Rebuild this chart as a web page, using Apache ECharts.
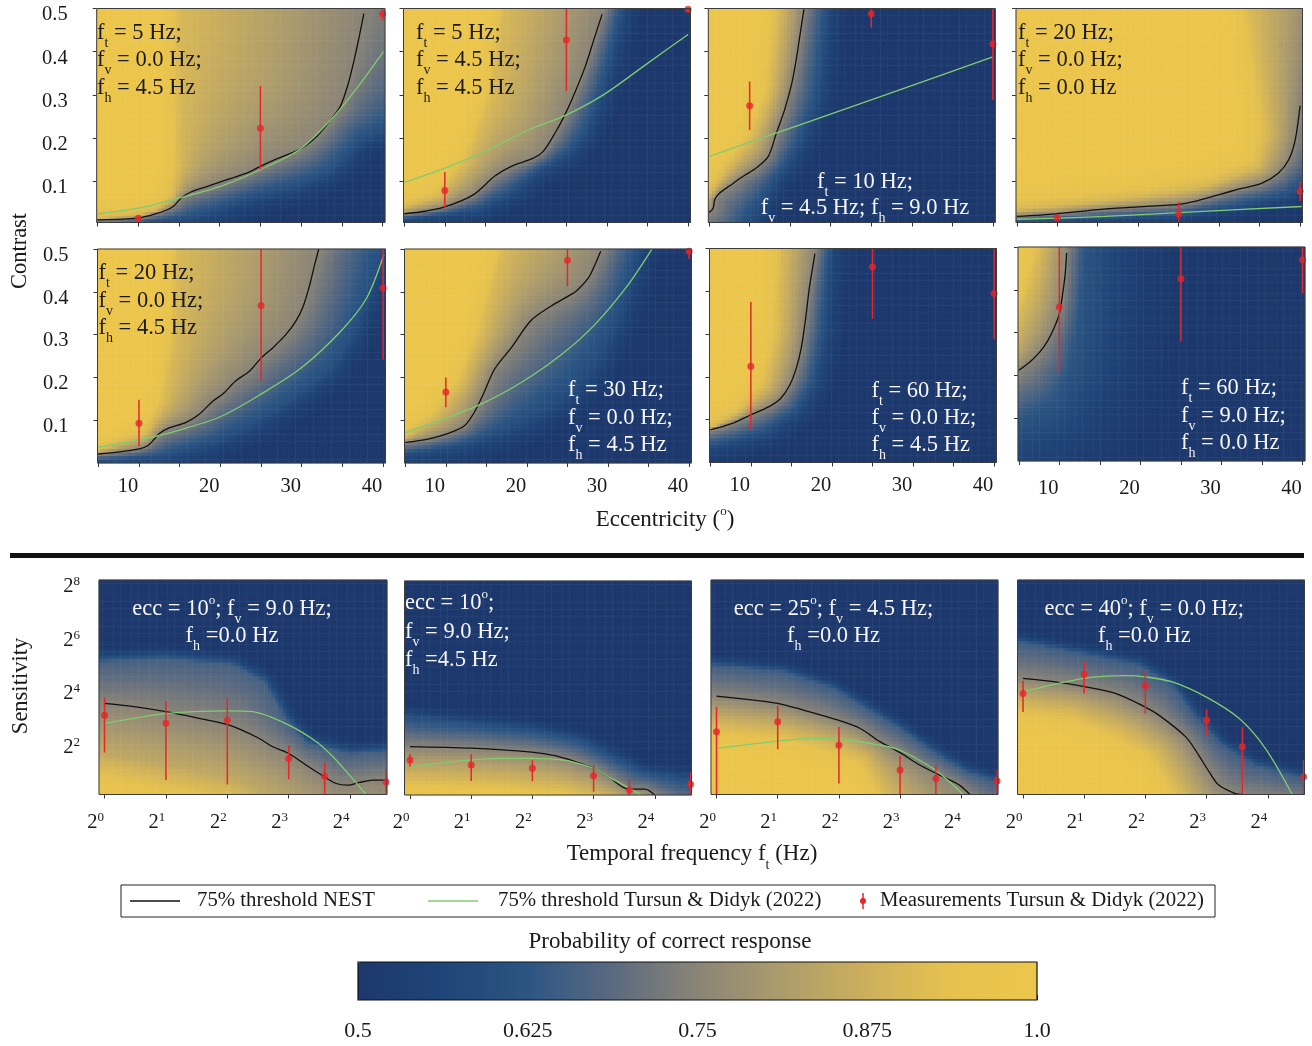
<!DOCTYPE html>
<html>
<head>
<meta charset="utf-8">
<script src="https://cdn.jsdelivr.net/npm/echarts@6/dist/echarts.min.js"></script>
<style>
  html, body { margin: 0; padding: 0; background: #fff; }
  #chart { width: 1312px; height: 1046px; }
</style>
</head>
<body>
<div id="chart"></div>
<script>
const SERIF = '"Liberation Serif", "Times New Roman", serif';

// ===== Contrast vs eccentricity (deg) panels =====
// nest*: NEST 75% threshold, tursun*: Tursun & Didyk 75% threshold,
// meas*: [ecc, contrast, low, high], blueEdge*/yellowEdge*: iso-probability contours of the shaded surface
const nest1 = [[5,0.011],[10,0.015],[11.4,0.021],[13.1,0.031],[14.3,0.042],[15.3,0.062],[16.4,0.075],[18.4,0.088],[20.9,0.104],[23.3,0.119],[25,0.135],[27,0.152],[29.9,0.175],[31.9,0.204],[33.6,0.242],[34.8,0.273],[35.8,0.327],[36.6,0.388],[37.3,0.45],[37.7,0.488]];
const tursun1 = [[5,0.025],[10,0.038],[15.1,0.062],[20,0.088],[25,0.127],[29.9,0.175],[34,0.25],[37.3,0.327],[40.1,0.40]];
const meas1 = [[10,0.015,0.010,0.020],[25,0.223,0.128,0.321],[40,0.488,0.473,0.5]];
const blueEdge1 = [[10.2,0.005],[15.9,0.015],[19.6,0.035],[24.1,0.065],[29.1,0.088],[33.2,0.119],[35.6,0.158],[37.3,0.196],[40.1,0.219]];
const yellowEdge1 = [[5,0.016],[9.4,0.021],[12.3,0.035],[14.3,0.065],[15.1,0.135],[15.1,0.497]];

const nest2 = [[5,0.025],[7.55,0.031],[10,0.041],[13.5,0.069],[16.2,0.113],[18.2,0.135],[20.7,0.152],[22.1,0.169],[23.6,0.212],[24.8,0.254],[26,0.304],[27.3,0.365],[28.5,0.435],[29.4,0.487]];
const tursun2 = [[5,0.098],[10,0.131],[14.9,0.169],[20.3,0.219],[25,0.254],[29.7,0.302],[34.7,0.369],[40,0.44]];
const meas2 = [[10,0.079,0.038,0.122],[25,0.427,0.31,0.5],[40,0.498,0.49,0.5]];
const blueEdge2 = [[5,0.012],[14,0.03],[18.5,0.07],[21.5,0.12],[25.5,0.16],[27.7,0.21],[29.6,0.3],[31,0.4],[32.2,0.498]];
const yellowEdge2 = [[5,0.042],[9.2,0.065],[12.9,0.15],[15.8,0.288],[17.4,0.498]];

const nest3 = [[5,0.028],[5.5,0.038],[5.7,0.058],[6.3,0.073],[7.55,0.09],[9.2,0.112],[10.8,0.131],[12.3,0.158],[13.3,0.212],[14.3,0.265],[15.2,0.327],[15.8,0.388],[16.3,0.45],[16.7,0.498]];
const tursun3 = [[5,0.158],[16.2,0.231],[28.5,0.312],[40,0.388]];
const meas3 = [[10,0.275,0.219,0.331],[25,0.488,0.456,0.498],[40,0.418,0.288,0.5]];
const blueEdge3 = [[10.8,0.019],[13.3,0.096],[16.2,0.173],[18.7,0.288],[19.9,0.498]];
const yellowEdge3 = [[5,0.07],[7.3,0.13],[10.4,0.2],[12.5,0.3],[13.7,0.498]];

const nest4 = [[5,0.019],[9.9,0.025],[15.1,0.035],[20,0.041],[25,0.047],[27,0.054],[29.9,0.069],[32.4,0.082],[35.3,0.096],[37.3,0.119],[38.6,0.15],[39.4,0.196],[40,0.275]];
const tursun4 = [[5,0.012],[15.9,0.019],[25,0.028],[40.2,0.042]];
const meas4 = [[10,0.016,0.012,0.02],[25,0.025,0.008,0.052],[40,0.077,0.054,0.1]];
const blueEdge4 = [[5,0.006],[24.1,0.017],[32.4,0.04],[38.6,0.063],[40.3,0.085]];
const yellowEdge4 = [[5,0.035],[20,0.065],[28.3,0.09],[34.8,0.135],[36,0.212],[35,0.365],[34,0.498]];

const nest5 = [[5,0.021],[7.6,0.026],[10.05,0.033],[11.1,0.041],[11.9,0.056],[12.5,0.069],[13.7,0.082],[15.8,0.095],[17.4,0.114],[19.1,0.145],[20.3,0.161],[21.9,0.192],[23.6,0.215],[25,0.245],[26.5,0.27],[28.1,0.301],[29.3,0.332],[30.2,0.367],[31,0.417],[31.6,0.464],[32.1,0.5]];
const tursun5 = [[5,0.037],[10.05,0.054],[15,0.077],[20,0.108],[25,0.161],[30,0.223],[35,0.312],[38,0.386],[40.1,0.487]];
const meas5 = [[10,0.093,0.04,0.148],[25,0.368,0.192,0.5],[40,0.409,0.242,0.5]];
const blueEdge5 = [[5,0.005],[13.3,0.017],[19.5,0.052],[24.8,0.099],[29.7,0.161],[33.8,0.223],[36.3,0.301],[37.9,0.378],[39.6,0.487]];
const yellowEdge5 = [[5,0.029],[10.9,0.068],[13.3,0.145],[14.6,0.3],[15,0.5]];

const nest6 = [[5,0.048],[7.8,0.056],[10.4,0.07],[12.3,0.087],[13.5,0.118],[14.6,0.16],[16,0.219],[18.1,0.27],[20.5,0.333],[23,0.367],[25.1,0.39],[26.1,0.402],[27.6,0.433],[28.4,0.464],[29.1,0.495]];
const tursun6 = [[5,0.071],[9.8,0.103],[14.4,0.138],[19.3,0.188],[24.3,0.254],[28.4,0.324],[32.5,0.417],[35.4,0.499]];
const meas6 = [[10,0.166,0.13,0.2],[25,0.474,0.413,0.5],[40,0.495,0.476,0.5]];
const blueEdge6 = [[5,0.017],[11.9,0.037],[17.2,0.068],[22.2,0.114],[26.3,0.169],[29.2,0.239],[31.7,0.34],[33.3,0.441],[34.1,0.5]];
const yellowEdge6 = [[5,0.06],[8.6,0.106],[11.9,0.184],[14.4,0.3],[17.2,0.5]];

const nest7 = [[5,0.076],[7.8,0.092],[9.95,0.111],[12.3,0.131],[13.7,0.15],[14.8,0.181],[15.6,0.22],[16.2,0.266],[16.7,0.328],[17.2,0.406],[17.6,0.453],[17.9,0.488]];
const tursun7 = [];
const meas7 = [[10,0.225,0.076,0.375],[25,0.457,0.336,0.5],[40,0.395,0.288,0.5]];
const blueEdge7 = [[5,0.033],[11.9,0.064],[16,0.119],[18.1,0.181],[19.3,0.298],[20.1,0.497]];
const yellowEdge7 = [[5,0.08],[8.6,0.119],[11.9,0.181],[13.5,0.298],[13.9,0.5]];

const nest8 = [[5,0.212],[6.4,0.232],[7.6,0.255],[8.6,0.282],[9.4,0.313],[10,0.344],[10.35,0.383],[10.7,0.433],[10.9,0.486]];
const tursun8 = [];
const meas8 = [[10,0.36,0.205,0.5],[25,0.426,0.28,0.5],[40,0.47,0.393,0.5]];
const blueEdge8 = [[5,0.092],[9.4,0.139],[11.5,0.216],[12.7,0.371],[13.1,0.5]];
const yellowEdge8 = [[5,0.333],[6.6,0.41],[7.8,0.5]];

// ===== Sensitivity vs temporal frequency panels (both in log2 units) =====
const nest9 = [[0,3.4],[0.51,3.27],[1,3.09],[1.54,2.84],[2,2.61],[2.2,2.44],[2.52,2.09],[2.74,1.78],[3,1.53],[3.28,1.1],[3.58,0.66],[3.77,0.41],[3.96,0.35],[4.15,0.45],[4.37,0.535],[4.6,0.535]];
const tursun9 = [[0,2.65],[1,3.02],[2,3.12],[2.41,3.09],[3,2.59],[3.45,1.97],[3.72,1.41],[3.99,0.72],[4.26,0]];
const meas9 = [[0,2.96,1.57,3.62],[1,2.66,0.54,3.48],[2,2.77,0.37,3.62],[3,1.34,0.57,1.84],[3.585,0.68,0,1.19],[4.585,0.47,0,0.97]];
const blueEdge9 = [[-0.1,4.95],[1,5.07],[2.09,4.83],[2.6,4.2],[2.95,2.8],[3.3,1.9],[3.99,1.5],[4.6,1.59]];
const yellowEdge9 = [[-0.1,1.59],[1,1.09],[2.09,0.6],[2.63,0]];

const nest10 = [[0,1.81],[1,1.75],[1.99,1.6],[2.37,1.47],[2.7,1.25],[3,1],[3.24,0.69],[3.57,0.22],[3.84,0.22],[4,0]];
const tursun10 = [[0,1.06],[1,1.31],[1.5,1.37],[2,1.37],[2.48,1.31],[3,1],[3.29,0.62],[3.57,0.27],[3.78,0]];
const meas10 = [[0,1.31,1.06,1.52],[1,1.12,0.52,1.52],[2,1,0.52,1.31],[3,0.72,0.12,1.12],[3.585,0.19,0,0.56],[4.585,0.4,0,0.85]];
const blueEdge10 = [[-0.08,2.99],[0.85,2.74],[1.94,2.49],[2.75,2.12],[3.29,1.5],[3.84,0.87],[4.6,0.62]];
const yellowEdge10 = [[-0.08,0.62],[1.39,0.5],[2.48,0.31],[3.02,0]];

const nest11 = [[0,3.67],[0.61,3.52],[1,3.4],[1.37,3.18],[1.99,2.77],[2.35,2.46],[2.67,1.97],[3,1.56],[3.32,1.1],[3.65,0.72],[3.97,0.35],[4.14,0]];
const tursun11 = [[0,1.72],[1,1.99],[1.53,2.09],[1.99,2.07],[2.67,1.84],[3,1.65],[3.54,0.97],[3.81,0.47],[4.03,0]];
const meas11 = [[0,2.34,0,3.27],[1,2.71,1.69,3.31],[2,1.84,0.41,2.52],[3,0.91,0,1.44],[3.585,0.6,0,1.09],[4.585,0.5,0,0.91]];
const blueEdge11 = [[-0.07,4.83],[1.1,4.58],[1.91,3.96],[2.45,3.21],[3,2.46],[3.54,1.59],[4.08,0.85],[4.6,0.47]];
const yellowEdge11 = [[-0.07,2.59],[1.1,2.34],[1.91,1.84],[2.45,1.34],[2.78,0]];

const nest12 = [[0,4.33],[0.53,4.2],[1,4.02],[1.51,3.77],[1.99,3.27],[2.22,2.96],[2.66,2.15],[2.87,1.47],[3.04,0.85],[3.2,0.35],[3.47,0.03],[3.58,0]];
const tursun12 = [[0,3.83],[1,4.33],[1.68,4.43],[1.99,4.39],[2.44,4.2],[2.99,3.64],[3.53,2.84],[3.96,1.72],[4.4,0]];
const meas12 = [[0,3.77,3.08,4.24],[1,4.49,3.77,4.95],[2,4.06,3.02,4.64],[3,2.77,2.19,3.18],[3.585,1.78,0,2.52],[4.585,0.66,0,1.28]];
const blueEdge12 = [[-0.08,5.7],[0.81,5.32],[1.89,4.83],[2.44,4.08],[2.76,3.08],[3.25,1.84],[3.8,1.09],[4.6,0.6]];
const yellowEdge12 = [[-0.08,3.33],[0.81,3.08],[1.62,2.34],[2.17,1.59],[2.6,0]];

// Shading levels per panel: [blue-edge level, yellow-edge level, fade to 0.5 (px), fade to 1.0 (px)]
const shadeLevels = [
  [0.60, 0.90, 30, 30], [0.58, 0.90, 25, 30], [0.58, 0.90, 25, 30], [0.58, 0.90, 15, 40],
  [0.60, 0.90, 30, 30], [0.58, 0.90, 30, 30], [0.58, 0.90, 25, 30], [0.62, 0.90, 120, 30],
  [0.66, 0.85, 18, 70], [0.60, 0.90, 15, 30], [0.65, 0.90, 15, 40], [0.65, 0.90, 15, 40]
];

// Panel condition labels (_x subscript, ^x superscript)
const condText = [
  ['f_t = 5 Hz;', 'f_v = 0.0 Hz;', 'f_h = 4.5 Hz'],
  ['f_t = 5 Hz;', 'f_v = 4.5 Hz;', 'f_h = 4.5 Hz'],
  ['f_t = 10 Hz;', 'f_v = 4.5 Hz; f_h = 9.0 Hz'],
  ['f_t = 20 Hz;', 'f_v = 0.0 Hz;', 'f_h = 0.0 Hz'],
  ['f_t = 20 Hz;', 'f_v = 0.0 Hz;', 'f_h = 4.5 Hz'],
  ['f_t = 30 Hz;', 'f_v = 0.0 Hz;', 'f_h = 4.5 Hz'],
  ['f_t = 60 Hz;', 'f_v = 0.0 Hz;', 'f_h = 4.5 Hz'],
  ['f_t = 60 Hz;', 'f_v = 9.0 Hz;', 'f_h = 0.0 Hz'],
  ['ecc = 10^o; f_v = 9.0 Hz;', 'f_h =0.0 Hz'],
  ['ecc = 10^o;', 'f_v = 9.0 Hz;', 'f_h =4.5 Hz'],
  ['ecc = 25^o; f_v = 4.5 Hz;', 'f_h =0.0 Hz'],
  ['ecc = 40^o; f_v = 0.0 Hz;', 'f_h =0.0 Hz']
];

// Axis ticks and labels
const eccTicks = [5, 10, 15, 20, 25, 30, 35, 40];
const eccLabels = [10, 20, 30, 40];
const contrastTicks = [0.1, 0.2, 0.3, 0.4, 0.5];
const log2FtTicks = [0, 1, 2, 3, 4];
const log2SensTicks = [1, 2, 3, 4, 5, 6, 7, 8];
const log2SensLabels = [2, 4, 6, 8];
const probColors = ['#1c386c', '#1f4477', '#2c5583', '#5a6a80', '#8a8477', '#ad9c6c', '#cdb05c', '#e6c24e', '#ecc64c'];

const legendNames = ['75% threshold NEST', '75% threshold Tursun & Didyk (2022)', 'Measurements Tursun & Didyk (2022)'];

// ===== Layout =====
const ECC_RANGE = [4.9, 40.3];
const FT_RANGE = [-0.09, 4.6];
const layout = [
  { rect: [96.7, 8.5, 288.3, 214], y: [0.005, 0.5], kind: 'ecc', xLab: false, yLab: true },
  { rect: [403.5, 8.5, 287, 214], y: [0.005, 0.5], kind: 'ecc', xLab: false, yLab: false },
  { rect: [708.3, 8.5, 287, 214], y: [0.005, 0.5], kind: 'ecc', xLab: false, yLab: false },
  { rect: [1016, 8.5, 286.5, 214], y: [0.005, 0.5], kind: 'ecc', xLab: false, yLab: false },
  { rect: [97.5, 249, 288, 214], y: [0, 0.5], kind: 'ecc', xLab: true, yLab: true, xMargin: 13 },
  { rect: [404.5, 249, 287, 214], y: [0, 0.5], kind: 'ecc', xLab: true, yLab: false, xMargin: 13 },
  { rect: [709.5, 248.5, 287, 214], y: [0, 0.5], kind: 'ecc', xLab: true, yLab: false, xMargin: 13 },
  { rect: [1018, 247, 287, 214], y: [0, 0.5], kind: 'ecc', xLab: true, yLab: false, xMargin: 17 },
  { rect: [99, 580, 288, 214.5], y: [0, 8], kind: 'ft', xLab: true, yLab: true, xMargin: 17 },
  { rect: [404.5, 581, 287, 214], y: [0, 8], kind: 'ft', xLab: true, yLab: false, xMargin: 16 },
  { rect: [711, 580, 287, 214.5], y: [0, 8], kind: 'ft', xLab: true, yLab: false, xMargin: 17 },
  { rect: [1017.5, 580, 287, 214.5], y: [0, 8], kind: 'ft', xLab: true, yLab: false, xMargin: 17 }
];
const condPlace = [
  { x: 97, y: [32.6, 60, 87.6], align: 'left', dark: true },
  { x: 416, y: [32.6, 60, 87.6], align: 'left', dark: true },
  { x: 865, y: [181.6, 208.3], align: 'center', dark: false },
  { x: 1018, y: [32.6, 60, 87.6], align: 'left', dark: true },
  { x: 98.5, y: [273.3, 301, 328.3], align: 'left', dark: true },
  { x: 568, y: [390, 417.6, 445], align: 'left', dark: false },
  { x: 871.5, y: [391, 418.3, 445], align: 'left', dark: false },
  { x: 1181, y: [388.3, 416, 443.3], align: 'left', dark: false },
  { x: 232, y: [609, 635.6], align: 'center', dark: false },
  { x: 405, y: [603.3, 632.3, 660], align: 'left', dark: false },
  { x: 833.5, y: [609, 635.6], align: 'center', dark: false },
  { x: 1144.3, y: [609, 635.6], align: 'center', dark: false }
];

const panels = [
  [nest1, tursun1, meas1, blueEdge1, yellowEdge1],
  [nest2, tursun2, meas2, blueEdge2, yellowEdge2],
  [nest3, tursun3, meas3, blueEdge3, yellowEdge3],
  [nest4, tursun4, meas4, blueEdge4, yellowEdge4],
  [nest5, tursun5, meas5, blueEdge5, yellowEdge5],
  [nest6, tursun6, meas6, blueEdge6, yellowEdge6],
  [nest7, tursun7, meas7, blueEdge7, yellowEdge7],
  [nest8, tursun8, meas8, blueEdge8, yellowEdge8],
  [nest9, tursun9, meas9, blueEdge9, yellowEdge9],
  [nest10, tursun10, meas10, blueEdge10, yellowEdge10],
  [nest11, tursun11, meas11, blueEdge11, yellowEdge11],
  [nest12, tursun12, meas12, blueEdge12, yellowEdge12]
].map(([nest, tursun, meas, blue, yellow], i) => ({ nest, tursun, meas, blue, yellow, shade: shadeLevels[i] }));

const INK = '#1a1a1a';
const WHITE = '#f5f5f5';
const RED = '#e5262b';
const GREEN = '#80cc70';
const NX = 80, NY = 60;
const COND_SIZE = 22.5;

// ---- helpers ----
function richStyles(color, size) {
  return {
    m: { fontFamily: SERIF, fontSize: size, color: color },
    s: { fontFamily: SERIF, fontSize: Math.round(size * 0.6), color: color, padding: [Math.round(size * 0.95), 0, 0, 0] },
    p: { fontFamily: SERIF, fontSize: Math.round(size * 0.58), color: color, padding: [0, 0, Math.round(size * 0.75), 0] }
  };
}
function toRich(str) {
  let out = '', buf = '';
  for (let i = 0; i < str.length; i++) {
    const c = str[i];
    if ((c === '_' || c === '^') && i + 1 < str.length) {
      if (buf) { out += '{m|' + buf + '}'; buf = ''; }
      out += (c === '_' ? '{s|' : '{p|') + str[i + 1] + '}';
      i++;
    } else buf += c;
  }
  if (buf) out += '{m|' + buf + '}';
  return out;
}
function textEl(x, y, str, opts) {
  const o = opts || {};
  const size = o.size || 20;
  return {
    type: 'text', x: x, y: y, rotation: o.rotation || 0, z: 60, silent: true,
    style: {
      text: toRich(str), rich: richStyles(o.color || INK, size),
      fill: o.color || INK, fontFamily: SERIF, fontSize: size,
      align: o.align || 'left', textAlign: o.align || 'left',
      verticalAlign: 'middle', textVerticalAlign: 'middle'
    }
  };
}

// signed distance (px) from P to an open polyline whose end segments extend as rays;
// positive on the left-hand side of the direction of travel
function signedDistance(P, poly) {
  let best = Infinity, sgn = 1;
  const n = poly.length;
  for (let i = 0; i < n - 1; i++) {
    const A = poly[i], B = poly[i + 1];
    const dx = B[0] - A[0], dy = B[1] - A[1];
    const len2 = dx * dx + dy * dy || 1e-9;
    let t = ((P[0] - A[0]) * dx + (P[1] - A[1]) * dy) / len2;
    if (i > 0 && t < 0) t = 0;
    if (i < n - 2 && t > 1) t = 1;
    const qx = A[0] + t * dx, qy = A[1] + t * dy;
    const d = Math.hypot(P[0] - qx, P[1] - qy);
    if (d < best) {
      best = d;
      sgn = (dx * (P[1] - A[1]) - dy * (P[0] - A[0])) >= 0 ? 1 : -1;
    }
  }
  return sgn * best;
}
const ease = t => t * (2 - t);

// Probability surface of one panel, shaded between its iso-probability contours
// (blue edge, NEST 75% threshold, yellow edge).
function probabilityCells(panel, L) {
  const xr = L.kind === 'ecc' ? ECC_RANGE : FT_RANGE;
  const yr = L.y;
  const W = L.rect[2], H = L.rect[3];
  const toPx = p => [(p[0] - xr[0]) / (xr[1] - xr[0]) * W, (p[1] - yr[0]) / (yr[1] - yr[0]) * H];
  const orient = L.kind === 'ecc' ? 1 : -1;
  const curves = [panel.blue, panel.nest, panel.yellow].map(c => c.map(toPx));
  const [lb, ly, fb, fy] = panel.shade;
  const levels = [lb, 0.75, ly];
  const cells = [];
  for (let iy = 0; iy < NY; iy++) {
    for (let ix = 0; ix < NX; ix++) {
      const P = [(ix + 0.5) / NX * W, (iy + 0.5) / NY * H];
      const d = curves.map(c => orient * signedDistance(P, c));
      let k = -1;
      for (let j = 2; j >= 0; j--) { if (d[j] >= 0) { k = j; break; } }
      let p;
      if (k < 0) p = lb - (lb - 0.5) * ease(Math.min(1, -d[0] / fb));
      else if (k === 2) p = ly + (1 - ly) * ease(Math.min(1, d[2] / fy));
      else p = levels[k] + (levels[k + 1] - levels[k]) * d[k] / (d[k] - d[k + 1]);
      cells.push([ix, iy, p]);
    }
  }
  return cells;
}

// ===== Build option =====
const grids = [], xAxes = [], yAxes = [], series = [], graphics = [];
const heatSeries = [];
const idx = n => Array.from({ length: n }, (_, i) => i);
const tickStyle = { show: true, length: 4, inside: false, lineStyle: { color: '#333', width: 1 } };
const supRich = {
  b: { fontFamily: SERIF, fontSize: 20.5, color: INK },
  p: { fontFamily: SERIF, fontSize: 13, color: INK, padding: [0, 0, 10, 0] }
};

layout.forEach((L, i) => {
  const [left, top, w, h] = L.rect;
  const isEcc = L.kind === 'ecc';
  const panel = panels[i];
  grids.push({ left: left, top: top, width: w, height: h, containLabel: false });

  // value axes
  xAxes.push({
    gridIndex: i, type: 'value', min: (isEcc ? ECC_RANGE : FT_RANGE)[0], max: (isEcc ? ECC_RANGE : FT_RANGE)[1],
    axisLine: { show: false }, splitLine: { show: false },
    axisTick: Object.assign({ customValues: isEcc ? eccTicks : log2FtTicks }, tickStyle),
    axisLabel: {
      show: L.xLab, customValues: isEcc ? eccLabels : log2FtTicks,
      margin: L.xMargin || 12, padding: isEcc ? [0, 22, 0, 0] : [0, 18, 0, 0],
      fontFamily: SERIF, fontSize: 20.5, color: INK,
      formatter: isEcc ? (v => String(v)) : (v => '{b|2}{p|' + v + '}'),
      rich: supRich
    }
  });
  xAxes.push({ gridIndex: i, type: 'category', data: idx(NX), show: false });

  yAxes.push({
    gridIndex: i, type: 'value', min: L.y[0], max: L.y[1],
    axisLine: { show: false }, splitLine: { show: false },
    axisTick: Object.assign({ customValues: isEcc ? contrastTicks : log2SensTicks }, tickStyle),
    axisLabel: {
      show: L.yLab, customValues: isEcc ? contrastTicks : log2SensLabels,
      margin: isEcc ? 29 : 19, padding: [13, 0, 0, 0],
      fontFamily: SERIF, fontSize: 20.5, color: INK,
      formatter: isEcc ? (v => v.toFixed(1)) : (v => '{b|2}{p|' + v + '}'),
      rich: supRich
    }
  });
  yAxes.push({ gridIndex: i, type: 'category', data: idx(NY), show: false });

  const xv = 2 * i, xc = 2 * i + 1;
  heatSeries.push(series.length);
  series.push({
    type: 'heatmap', xAxisIndex: xc, yAxisIndex: xc, data: probabilityCells(panel, L),
    progressive: 0, silent: true, z: 1, itemStyle: { borderWidth: 0 }, emphasis: { disabled: true }
  });
  series.push({
    type: 'line', name: legendNames[0], xAxisIndex: xv, yAxisIndex: xv, data: panel.nest,
    symbol: 'none', smooth: 0.3, clip: true, silent: true, z: 3,
    lineStyle: { color: '#111', width: 1.3 }
  });
  if (panel.tursun.length) {
    series.push({
      type: 'line', name: legendNames[1], xAxisIndex: xv, yAxisIndex: xv, data: panel.tursun,
      symbol: 'none', smooth: 0.3, clip: true, silent: true, z: 3,
      lineStyle: { color: GREEN, width: 1.3 }
    });
  }
  series.push({
    type: 'custom', name: legendNames[2], xAxisIndex: xv, yAxisIndex: xv, data: panel.meas,
    encode: { x: 0, y: 1 }, clip: true, silent: true, z: 4,
    renderItem: (params, api) => {
      const a = api.coord([api.value(0), api.value(2)]);
      const b = api.coord([api.value(0), api.value(3)]);
      return { type: 'line', shape: { x1: a[0], y1: a[1], x2: b[0], y2: b[1] }, style: { stroke: RED, lineWidth: 1.5 } };
    }
  });
  series.push({
    type: 'scatter', xAxisIndex: xv, yAxisIndex: xv, data: panel.meas.map(m => [m[0], m[1]]),
    symbol: 'circle', symbolSize: 7, clip: true, silent: true, z: 5,
    itemStyle: { color: RED }
  });

  // panel frame
  graphics.push({
    type: 'rect', shape: { x: left, y: top, width: w, height: h }, z: 50, silent: true,
    style: { fill: null, stroke: '#3c3c3c', lineWidth: 1 }
  });
  // condition labels
  const cp = condPlace[i];
  condText[i].forEach((line, j) => {
    graphics.push(textEl(cp.x, cp.y[j], line, { align: cp.align, color: cp.dark ? INK : WHITE, size: COND_SIZE }));
  });
});

// Colour-bar axis (ticks + labels under the visualMap bar)
const cbIndex = layout.length;
const CB = [358, 962, 679, 38];
grids.push({ left: CB[0], top: CB[1], width: CB[2], height: CB[3], containLabel: false });
xAxes.push({
  gridIndex: cbIndex, type: 'value', min: 0.5, max: 1.0, interval: 0.125,
  axisLine: { show: false }, splitLine: { show: false },
  axisTick: { show: true, inside: true, length: 5, lineStyle: { color: '#222' } },
  axisLabel: {
    margin: 20, fontFamily: SERIF, fontSize: 22, color: INK,
    formatter: v => (v === 1 ? '1.0' : String(v))
  }
});
yAxes.push({ gridIndex: cbIndex, type: 'value', min: 0, max: 1, show: false });
graphics.push({
  type: 'rect', shape: { x: CB[0], y: CB[1], width: CB[2], height: CB[3] }, z: 50, silent: true,
  style: { fill: null, stroke: '#111', lineWidth: 1.2 }
});

// Axis titles
graphics.push(textEl(20.5, 251, 'Contrast', { align: 'center', rotation: Math.PI / 2, size: 22.5 }));
graphics.push(textEl(665, 520, 'Eccentricity (^o)', { align: 'center', size: 23 }));
graphics.push(textEl(21, 686, 'Sensitivity', { align: 'center', rotation: Math.PI / 2, size: 22.5 }));
graphics.push(textEl(692, 854, 'Temporal frequency f_t (Hz)', { align: 'center', size: 23 }));
graphics.push(textEl(670, 942, 'Probability of correct response', { align: 'center', size: 23 }));

// Separator between the two groups
graphics.push({ type: 'rect', shape: { x: 10, y: 553, width: 1294, height: 5 }, style: { fill: '#111' }, z: 50, silent: true });

// Legend
graphics.push({ type: 'rect', shape: { x: 121, y: 885, width: 1094, height: 32 }, style: { fill: '#fff', stroke: '#222', lineWidth: 1 }, z: 40, silent: true });
graphics.push({ type: 'line', shape: { x1: 130, y1: 901, x2: 180, y2: 901 }, style: { stroke: '#111', lineWidth: 1.5 }, z: 55, silent: true });
graphics.push(textEl(197, 901, legendNames[0], { size: 20.8 }));
graphics.push({ type: 'line', shape: { x1: 428, y1: 901, x2: 478, y2: 901 }, style: { stroke: GREEN, lineWidth: 1.5 }, z: 55, silent: true });
graphics.push(textEl(498, 901, legendNames[1], { size: 20.8 }));
graphics.push({ type: 'line', shape: { x1: 863, y1: 893, x2: 863, y2: 909 }, style: { stroke: RED, lineWidth: 1.5 }, z: 55, silent: true });
graphics.push({ type: 'circle', shape: { cx: 863, cy: 901, r: 3 }, style: { fill: RED }, z: 56, silent: true });
graphics.push(textEl(880, 901, legendNames[2], { size: 20.8 }));

const option = {
  backgroundColor: '#fff',
  animation: false,
  grid: grids,
  xAxis: xAxes,
  yAxis: yAxes,
  visualMap: {
    type: 'continuous', min: 0.5, max: 1.0, seriesIndex: heatSeries, dimension: 2,
    orient: 'horizontal', left: CB[0], top: CB[1], itemWidth: CB[3], itemHeight: CB[2],
    calculable: false, hoverLink: false, padding: 0, show: true,
    inRange: { color: probColors }
  },
  series: series,
  graphic: { elements: graphics }
};

const chart = echarts.init(document.getElementById('chart'), null, { renderer: 'canvas' });
chart.setOption(option);
</script>
</body>
</html>
